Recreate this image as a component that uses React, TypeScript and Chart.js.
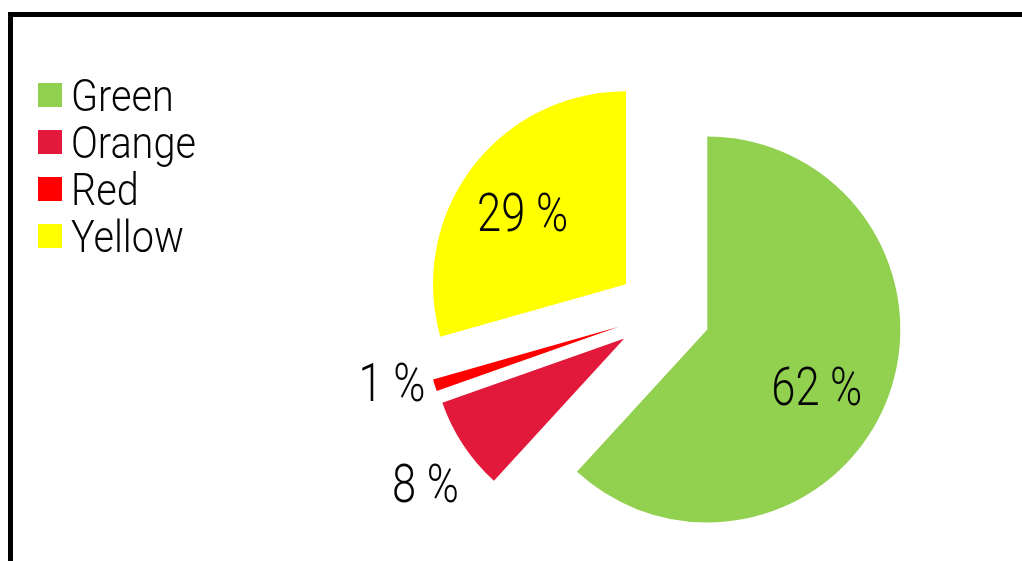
import React, { useEffect, useRef } from 'react';
import { Chart, registerables } from 'chart.js';

Chart.register(...registerables);

// ---- data ----
const categories = ['Green', 'Orange', 'Red', 'Yellow'];
const shares = [61.8, 7.8, 1.0, 29.4];
const sliceColors = ['#92D050', '#E2193A', '#FF0000', '#FFFF00'];

// ---- styling ----
const EXPLODE = 47;
const PIE_RADIUS = 193;
const labelRadius = [0.639, 1.273, 1.209, 0.654];
const labelAngleShift = [6.2, -2.5, 4.0, -2.1];
const FONT = 'Roboto, "DejaVu Sans", sans-serif';
const TEXT_COLOR = '#050505';

const explodedPie = {
  id: 'explodedPie',
  beforeDatasetDraw(chart: any, args: any) {
    const meta = chart.getDatasetMeta(args.index);
    const ctx = chart.ctx;
    ctx.save();
    meta.data.forEach((el: any) => {
      const p = el.getProps(['x', 'y', 'startAngle', 'endAngle', 'outerRadius'], true);
      const mid = (p.startAngle + p.endAngle) / 2;
      const cx = p.x + Math.cos(mid) * EXPLODE;
      const cy = p.y + Math.sin(mid) * EXPLODE;
      ctx.beginPath();
      ctx.moveTo(cx, cy);
      ctx.arc(cx, cy, p.outerRadius, p.startAngle, p.endAngle);
      ctx.closePath();
      ctx.fillStyle = el.options.backgroundColor;
      ctx.fill();
    });
    ctx.restore();
    return false;
  },
  afterDatasetsDraw(chart: any) {
    const meta = chart.getDatasetMeta(0);
    const values = chart.data.datasets[0].data;
    const ctx = chart.ctx;
    const size = 53;
    meta.data.forEach((el: any, i: number) => {
      const p = el.getProps(['x', 'y', 'startAngle', 'endAngle', 'outerRadius'], true);
      const mid = (p.startAngle + p.endAngle) / 2;
      const cx = p.x + Math.cos(mid) * EXPLODE;
      const cy = p.y + Math.sin(mid) * EXPLODE;
      const a = mid + (labelAngleShift[i] * Math.PI) / 180;
      const r = labelRadius[i] * p.outerRadius;
      const lx = cx + Math.cos(a) * r;
      const ly = cy + Math.sin(a) * r;
      ctx.save();
      ctx.translate(lx, ly + size * 0.3555);
      ctx.scale(0.82, 1);
      ctx.font = `350 ${size}px ${FONT}`;
      ctx.fillStyle = TEXT_COLOR;
      ctx.textAlign = 'center';
      ctx.textBaseline = 'alphabetic';
      ctx.fillText(`${Math.round(values[i])} %`, 0, 0);
      ctx.restore();
    });
  },
};

const sideLegend = {
  id: 'sideLegend',
  afterDraw(chart: any) {
    const ctx = chart.ctx;
    const ds = chart.data.datasets[0];
    const box = 24;
    const left = 38;
    const top0 = 83;
    const step = 47;
    const size = 44;
    chart.data.labels.forEach((lab: string, i: number) => {
      const top = top0 + i * step;
      ctx.save();
      ctx.fillStyle = ds.backgroundColor[i];
      ctx.fillRect(left, top, box, box);
      ctx.translate(71, top + box / 2 + size * 0.3555);
      ctx.scale(0.9, 1);
      ctx.font = `350 ${size}px ${FONT}`;
      ctx.fillStyle = TEXT_COLOR;
      ctx.textAlign = 'left';
      ctx.textBaseline = 'alphabetic';
      ctx.fillText(lab, 0, 0);
      ctx.restore();
    });
  },
};

export default function App() {
  const ref = useRef<HTMLCanvasElement | null>(null);
  useEffect(() => {
    if (!ref.current) return;
    const chart = new Chart(ref.current, {
      type: 'pie',
      data: {
        labels: categories,
        datasets: [
          {
            data: shares,
            backgroundColor: sliceColors,
            borderWidth: 0,
            radius: PIE_RADIUS,
          } as any,
        ],
      },
      options: {
        responsive: false,
        animation: false,
        layout: { padding: { left: 305, top: 64, right: 0, bottom: 0 } },
        plugins: {
          legend: { display: false },
          tooltip: { enabled: false },
        },
      },
      plugins: [explodedPie, sideLegend],
    });
    return () => chart.destroy();
  }, []);

  return (
    <div
      style={{
        position: 'fixed',
        left: 0,
        top: 0,
        width: 1022,
        height: 561,
        overflow: 'hidden',
        background: '#fff',
      }}
    >
      <div
        style={{
          position: 'absolute',
          left: 8,
          top: 12,
          width: 1200,
          height: 800,
          border: '5px solid #000',
          boxSizing: 'border-box',
          background: '#fff',
        }}
      />
      <canvas
        ref={ref}
        width={1022}
        height={561}
        style={{ position: 'absolute', left: 0, top: 0, width: 1022, height: 561 }}
      />
    </div>
  );
}
